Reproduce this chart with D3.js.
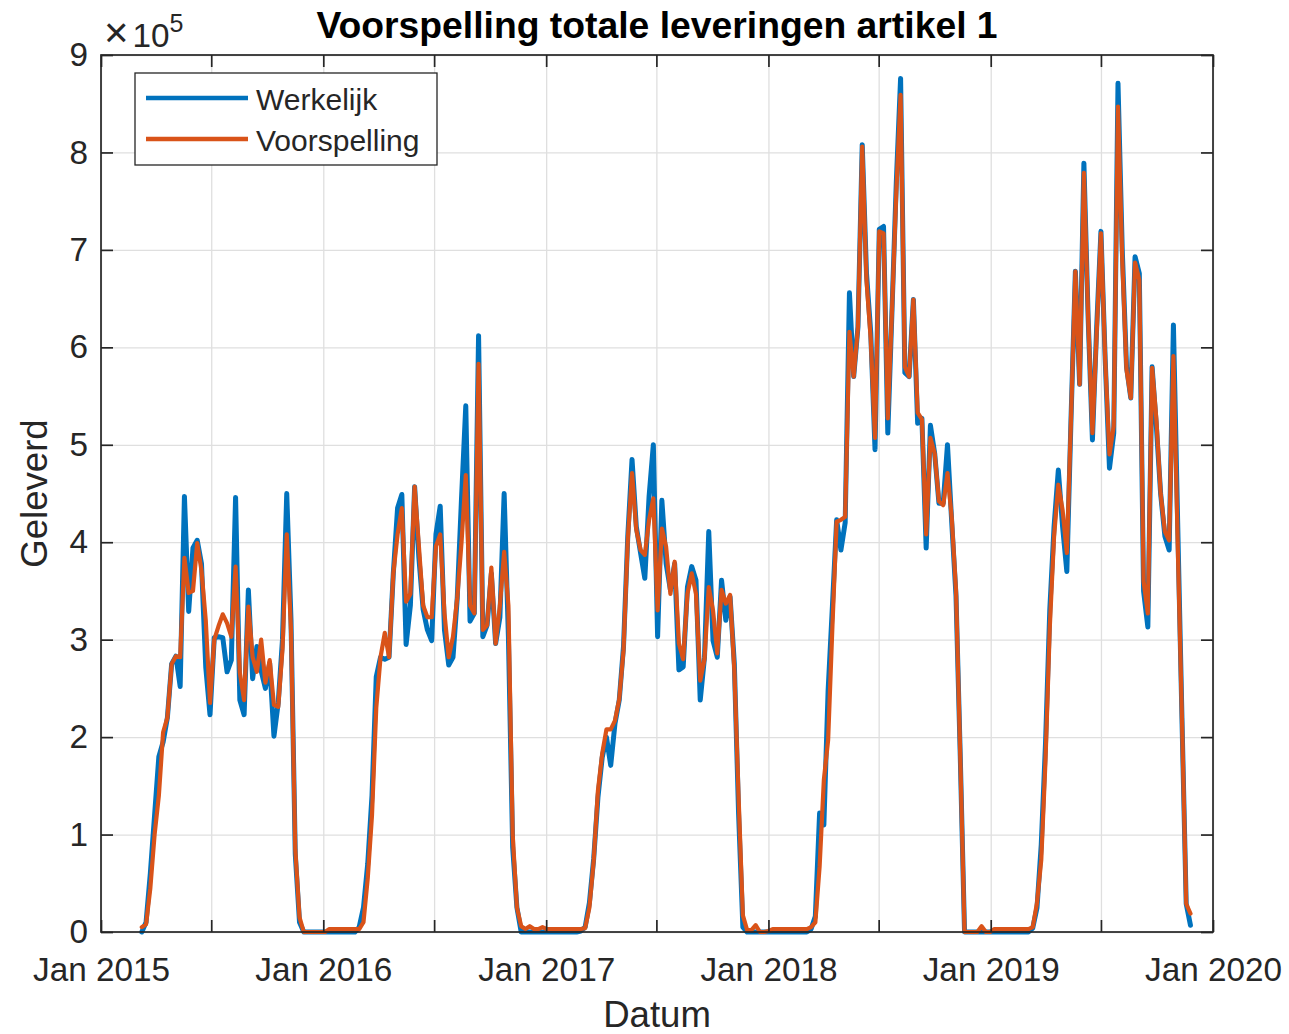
<!DOCTYPE html>
<html>
<head>
<meta charset="utf-8">
<script src="https://cdn.jsdelivr.net/npm/d3@7"></script>
<style>
  body { margin: 0; background: #fff; }
  text { font-family: "Liberation Sans", Arial, Helvetica, sans-serif; fill: #262626; }
</style>
</head>
<body>
<svg id="chart" width="1289" height="1034"></svg>
<script>
//------------------- data (weekly, units of 10^5) ------------------
var firstWeek = new Date(2015, 2, 9);   // first plotted week (Monday)

var werkelijk2015 = [0, 0.1, 0.6, 1.2, 1.8, 1.95, 2.2, 2.75, 2.83, 2.52,
  4.47, 3.29, 3.94, 4.02, 3.78, 2.72, 2.23, 3.02, 3.03, 3.02,
  2.67, 2.79, 4.46, 2.38, 2.23, 3.51, 2.6, 2.93, 2.68, 2.5,
  2.76, 2.01, 2.35, 3.0, 4.5, 3.2, 0.8, 0.1, 0, 0,
  0, 0, 0];
var voorspelling2015 = [0.05, 0.08, 0.45, 1.0, 1.4, 2.05, 2.2, 2.75, 2.83, 2.82,
  3.84, 3.48, 3.5, 3.99, 3.71, 3.2, 2.35, 3.0, 3.14, 3.26,
  3.17, 3.03, 3.75, 2.66, 2.38, 3.34, 2.82, 2.67, 3.0, 2.56,
  2.79, 2.33, 2.31, 2.9, 4.08, 3.1, 0.85, 0.15, 0, 0,
  0, 0, 0];

var werkelijk2016 = [0, 0, 0, 0, 0, 0, 0, 0,
  0.05, 0.25, 0.7, 1.4, 2.62, 2.82, 2.8, 2.82, 3.68, 4.35,
  4.49, 2.95, 3.35, 4.57, 3.84, 3.31, 3.1, 2.99, 4.08, 4.37,
  3.1, 2.74, 2.82, 3.43, 4.45, 5.4, 3.19, 3.27, 6.12, 3.03,
  3.15, 3.68, 2.96, 3.23, 4.5, 3.03, 0.87, 0.25, 0, 0,
  0, 0, 0, 0];
var voorspelling2016 = [0, 0.03, 0.03, 0.03, 0.03, 0.03, 0.03, 0.03,
  0.03, 0.1, 0.55, 1.2, 2.3, 2.82, 3.07, 2.82, 3.68, 4.08,
  4.35, 3.39, 3.47, 4.57, 3.96, 3.35, 3.23, 3.23, 3.96, 4.08,
  3.27, 2.82, 3.03, 3.43, 4.0, 4.69, 3.35, 3.27, 5.83, 3.1,
  3.15, 3.74, 2.96, 3.35, 3.9, 3.35, 1.0, 0.25, 0.06, 0.03,
  0.06, 0.03, 0.03, 0.05];

var werkelijk2017 = [0, 0, 0, 0, 0, 0, 0, 0,
  0.01, 0.05, 0.3, 0.75, 1.38, 1.79, 2.0, 1.71, 2.14, 2.38,
  2.93, 4.06, 4.85, 4.16, 3.89, 3.63, 4.47, 5.0, 3.03, 4.43,
  3.78, 3.51, 3.78, 2.69, 2.72, 3.54, 3.75, 3.61, 2.38, 2.82,
  4.11, 2.99, 2.82, 3.61, 3.2, 3.44, 2.75, 1.21, 0.05, 0,
  0, 0, 0, 0];
var voorspelling2017 = [0.03, 0.03, 0.03, 0.03, 0.03, 0.03, 0.03, 0.03,
  0.03, 0.04, 0.25, 0.73, 1.45, 1.83, 2.08, 2.08, 2.17, 2.39,
  2.89, 4.02, 4.71, 4.13, 3.92, 3.87, 4.23, 4.45, 3.3, 4.14,
  3.95, 3.47, 3.8, 2.96, 2.8, 3.47, 3.68, 3.47, 2.58, 2.8,
  3.54, 3.3, 2.86, 3.51, 3.37, 3.46, 2.69, 1.38, 0.17, 0.02,
  0.02, 0.07, 0, 0];

var werkelijk2018 = [0, 0, 0, 0, 0, 0, 0, 0,
  0, 0, 0.03, 0.16, 1.22, 1.1, 2.48, 3.34, 4.23, 3.92,
  4.2, 6.56, 5.7, 6.21, 8.08, 6.76, 6.15, 4.95, 7.21, 7.24,
  5.12, 6.4, 7.7, 8.76, 5.74, 5.7, 6.49, 5.22, 5.27, 3.94,
  5.2, 4.91, 4.4, 4.4, 5.0, 4.2, 3.45, 1.8, 0, 0,
  0, 0, 0, 0, 0];
var voorspelling2018 = [0.01, 0.03, 0.03, 0.03, 0.03, 0.03, 0.03, 0.03,
  0.03, 0.03, 0.05, 0.1, 0.67, 1.56, 1.97, 3.13, 4.21, 4.23,
  4.26, 6.16, 5.7, 6.21, 8.06, 6.69, 6.08, 5.07, 7.19, 7.17,
  5.27, 6.4, 7.6, 8.59, 5.8, 5.7, 6.49, 5.33, 5.26, 4.08,
  5.07, 4.91, 4.42, 4.38, 4.71, 4.25, 3.5, 1.8, 0, 0,
  0, 0, 0.06, 0, 0];

var werkelijk2019 = [0, 0, 0, 0, 0, 0, 0, 0, 0,
  0.04, 0.25, 0.9, 1.94, 3.31, 4.16, 4.74, 4.16, 3.7, 5.3,
  6.78, 5.62, 7.89, 6.3, 5.05, 6.21, 7.19, 5.87, 4.76, 5.12,
  8.71, 7.0, 5.8, 5.48, 6.93, 6.76, 3.5, 3.13, 5.8, 5.19,
  4.5, 4.06, 3.92, 6.23, 4.2, 2.2, 0.29, 0.07];
var voorspelling2019 = [0.03, 0.03, 0.03, 0.03, 0.03, 0.03, 0.03, 0.03, 0.03,
  0.05, 0.3, 0.74, 1.77, 3.13, 4.06, 4.59, 4.33, 3.89, 5.3,
  6.78, 5.62, 7.79, 6.3, 5.12, 6.15, 7.17, 5.87, 4.9, 5.19,
  8.47, 6.9, 5.77, 5.48, 6.87, 6.69, 3.6, 3.27, 5.79, 5.26,
  4.5, 4.11, 4.02, 5.91, 4.0, 2.2, 0.29, 0.19];

var seriesNames = ["Werkelijk", "Voorspelling"];
var seriesColors = ["#0072BD", "#D95319"];
var xTickLabels = ["Jan 2015", "Jan 2016", "Jan 2017", "Jan 2018", "Jan 2019", "Jan 2020"];
var yTickLabels = ["0", "1", "2", "3", "4", "5", "6", "7", "8", "9"];

var werkelijk = [].concat(werkelijk2015, werkelijk2016, werkelijk2017, werkelijk2018, werkelijk2019);
var voorspelling = [].concat(voorspelling2015, voorspelling2016, voorspelling2017, voorspelling2018, voorspelling2019);

function toPoints(values) {
  return values.map(function(v, i) {
    return { date: d3.timeDay.offset(firstWeek, 7 * i), value: v };
  });
}
var series = [toPoints(werkelijk), toPoints(voorspelling)];

//------------------- layout ------------------
var plotLeft = 101, plotRight = 1213, plotTop = 55, plotBottom = 932;
var ink = "#262626";

var svg = d3.select("#chart");

var x = d3.scaleTime()
    .domain([new Date(2015, 0, 1), new Date(2020, 0, 1)])
    .range([plotLeft, plotRight]);
var y = d3.scaleLinear()
    .domain([0, 9])
    .range([plotBottom, plotTop]);

var xTicks = d3.timeMonth.every(6).range(new Date(2015, 0, 1), new Date(2020, 0, 2));
var yTicks = yTickLabels.map(function(d, i) { return i; });

function xLabel(d) {
  return d.getMonth() === 0 ? xTickLabels[d.getFullYear() - 2015] : "";
}

// grid
svg.append("g")
    .attr("transform", "translate(0," + plotBottom + ")")
    .call(d3.axisBottom(x).tickValues(xTicks).tickSize(-(plotBottom - plotTop)).tickFormat(""))
    .call(function(g) { g.select(".domain").remove(); })
    .selectAll("line").attr("stroke", "#dfdfdf").attr("stroke-width", 1.3);
svg.append("g")
    .attr("transform", "translate(" + plotLeft + ",0)")
    .call(d3.axisLeft(y).tickValues(yTicks).tickSize(-(plotRight - plotLeft)).tickFormat(""))
    .call(function(g) { g.select(".domain").remove(); })
    .selectAll("line").attr("stroke", "#dfdfdf").attr("stroke-width", 1.3);

// lines
var line = d3.line()
    .x(function(d) { return x(d.date); })
    .y(function(d) { return y(d.value); });

var lineWidths = [5, 4.2];
svg.append("g").selectAll("path")
  .data(series)
  .join("path")
    .attr("d", line)
    .attr("fill", "none")
    .attr("stroke", function(d, i) { return seriesColors[i]; })
    .attr("stroke-width", function(d, i) { return lineWidths[i]; })
    .attr("stroke-linejoin", "round")
    .attr("stroke-linecap", "round");

// axes (ticks inward, box)
function styleAxis(g) {
  g.select(".domain").remove();
  g.selectAll("line").attr("stroke", ink).attr("stroke-width", 1.7);
  g.selectAll("text").attr("fill", ink).style("font-size", "33.3px")
    .style("font-family", '"Liberation Sans", Arial, Helvetica, sans-serif');
}

svg.append("g")
    .attr("transform", "translate(0," + plotBottom + ")")
    .call(d3.axisBottom(x).tickValues(xTicks).tickSizeInner(-12).tickSizeOuter(0).tickPadding(25).tickFormat(xLabel))
    .call(styleAxis);
svg.append("g")
    .attr("transform", "translate(0," + plotTop + ")")
    .call(d3.axisTop(x).tickValues(xTicks).tickSizeInner(-12).tickSizeOuter(0).tickFormat(""))
    .call(styleAxis);
svg.append("g")
    .attr("transform", "translate(" + plotLeft + ",0)")
    .call(d3.axisLeft(y).tickValues(yTicks).tickSizeInner(-12).tickSizeOuter(0).tickPadding(13)
      .tickFormat(function(d) { return yTickLabels[d]; }))
    .call(styleAxis);
svg.append("g")
    .attr("transform", "translate(" + plotRight + ",0)")
    .call(d3.axisRight(y).tickValues(yTicks).tickSizeInner(-12).tickSizeOuter(0).tickFormat(""))
    .call(styleAxis);

svg.append("rect")
    .attr("x", plotLeft).attr("y", plotTop)
    .attr("width", plotRight - plotLeft).attr("height", plotBottom - plotTop)
    .attr("fill", "none").attr("stroke", ink).attr("stroke-width", 1.7);

// exponent label (x10^5)
var expo = svg.append("text")
    .attr("x", 104).attr("y", 47)
    .style("font-size", "33.3px");
expo.append("tspan").style("font-size", "42px").style("font-weight", "300").text("\u00d7");
expo.append("tspan").attr("dx", 4).text("10");
expo.append("tspan").attr("dy", -15).style("font-size", "25px").text("5");

// titles
svg.append("text")
    .attr("x", (plotLeft + plotRight) / 2).attr("y", 38)
    .attr("text-anchor", "middle")
    .style("font-size", "37.3px").style("font-weight", "bold").style("fill", "#000")
    .text("Voorspelling totale leveringen artikel 1");
svg.append("text")
    .attr("x", (plotLeft + plotRight) / 2).attr("y", 1027)
    .attr("text-anchor", "middle")
    .style("font-size", "36.6px")
    .text("Datum");
svg.append("text")
    .attr("transform", "translate(47," + (plotTop + plotBottom) / 2 + ") rotate(-90)")
    .attr("text-anchor", "middle")
    .style("font-size", "36.6px")
    .text("Geleverd");

// legend
var legend = svg.append("g").attr("transform", "translate(135,73)");
legend.append("rect")
    .attr("width", 302).attr("height", 92)
    .attr("fill", "#fff").attr("stroke", ink).attr("stroke-width", 1.3);
var item = legend.selectAll("g.item")
  .data(seriesNames)
  .join("g")
    .attr("class", "item")
    .attr("transform", function(d, i) { return "translate(0," + (25 + i * 41) + ")"; });
item.append("line")
    .attr("x1", 11).attr("x2", 113)
    .attr("stroke", function(d, i) { return seriesColors[i]; })
    .attr("stroke-width", 4.7);
item.append("text")
    .attr("x", 121).attr("y", 12)
    .style("font-size", "30px")
    .text(function(d) { return d; });
</script>
</body>
</html>
